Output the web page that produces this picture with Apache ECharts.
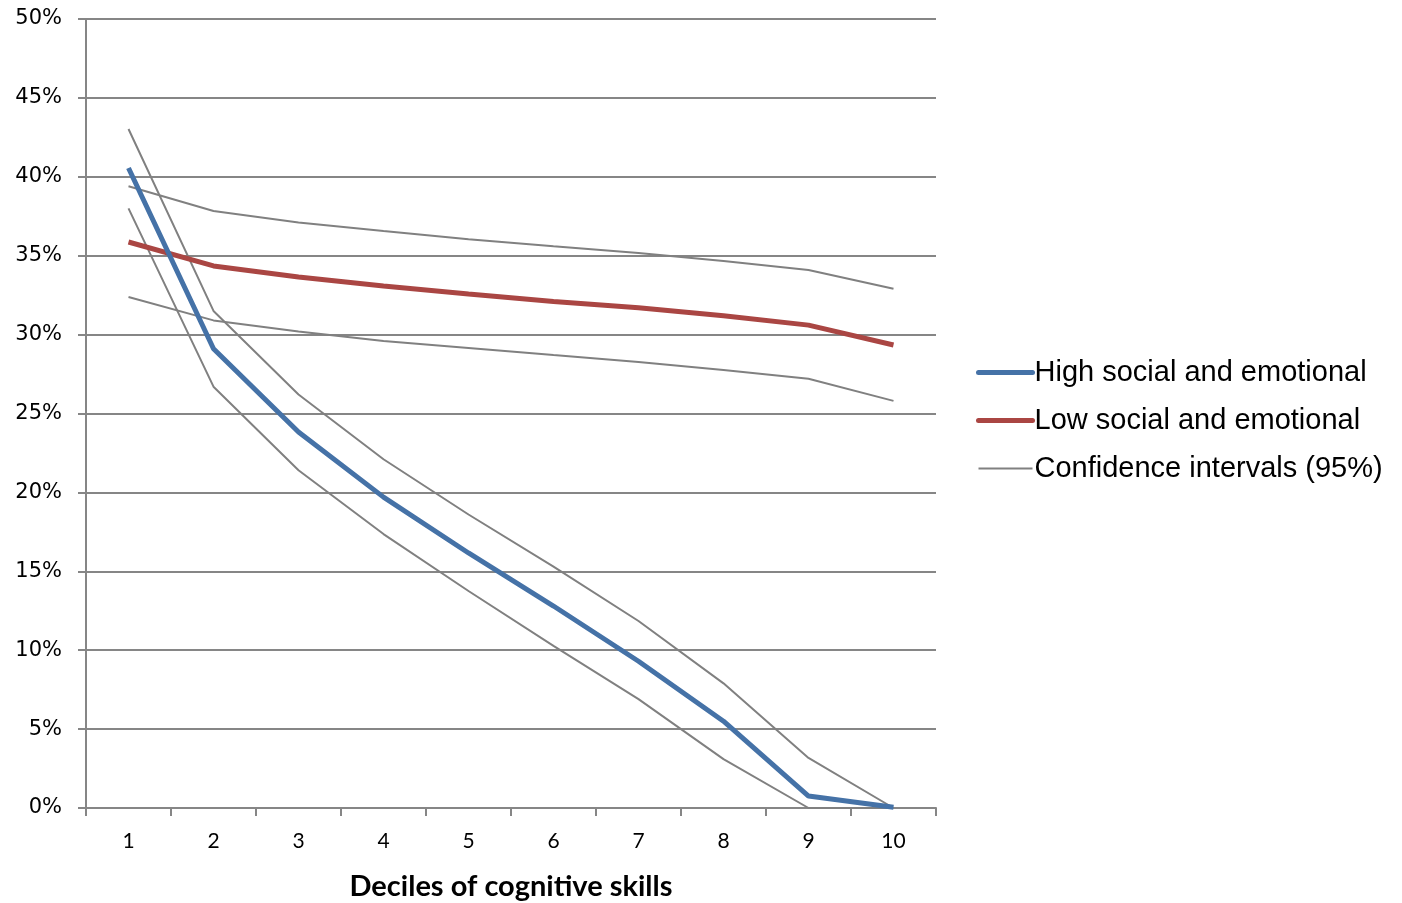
<!DOCTYPE html>
<html><head><meta charset="utf-8">
<script src="https://cdn.jsdelivr.net/npm/echarts@6/dist/echarts.min.js"></script>
<style>html,body{margin:0;padding:0;background:#fff}#c{width:1402px;height:903px}</style>
</head><body><div id="c"></div>
<script>
const categories = ['1','2','3','4','5','6','7','8','9','10'];
const highSE = [40.56, 29.1, 23.83, 19.7, 16.16, 12.8, 9.3, 5.5, 0.76, 0.05];
const lowSE = [35.87, 34.35, 33.65, 33.08, 32.57, 32.1, 31.7, 31.2, 30.6, 29.34];
const highUpper = [43.03, 31.5, 26.2, 22.1, 18.6, 15.3, 11.85, 7.9, 3.17, 0];
const highLower = [38.0, 26.7, 21.4, 17.36, 13.75, 10.27, 6.9, 3.1, 0, 0];
const lowUpper = [39.4, 37.83, 37.1, 36.56, 36.05, 35.6, 35.17, 34.66, 34.1, 32.9];
const lowLower = [32.38, 30.9, 30.2, 29.6, 29.15, 28.7, 28.26, 27.76, 27.2, 25.8];
const yTicks = [0,5,10,15,20,25,30,35,40,45,50];

const CI = 'Confidence intervals (95%)';
const HIGH = 'High social and emotional';
const LOW = 'Low social and emotional';
const grey = '#808080', blue = '#4572A7', red = '#AA4643';
function ciSeries(data){
  return {name: CI, type:'line', data, symbol:'none', lineStyle:{color:grey,width:2}, itemStyle:{color:grey}, z:2};
}
const chart = echarts.init(document.getElementById('c'));
chart.setOption({
  animation:false,
  grid:{left:86, top:19, width:850, height:789, containLabel:false, outerBoundsMode:'none'},
  legend:{
    orient:'vertical', left:971, top:353, itemWidth:54, itemHeight:14, itemGap:19,
    data:[
      {name:HIGH, itemStyle:{opacity:0}, lineStyle:{width:5, color:blue, cap:'round'}},
      {name:LOW, itemStyle:{opacity:0}, lineStyle:{width:5, color:red, cap:'round'}},
      {name:CI, itemStyle:{opacity:0}, lineStyle:{width:2, color:grey}}
    ],
    textStyle:{fontFamily:'Liberation Sans', fontSize:29, color:'#000', padding:[0,0,0,-3]},
    selectedMode:false
  },
  xAxis:{
    type:'category', data:categories, boundaryGap:true,
    name:'Deciles of cognitive skills', nameLocation:'middle', nameGap:64,
    nameTextStyle:{fontFamily:'Lato', fontWeight:'bold', fontSize:29, color:'#000'},
    axisLine:{lineStyle:{color:'#868686', width:2}},
    axisTick:{show:true, length:8, alignWithLabel:false, lineStyle:{color:'#868686', width:2}},
    axisLabel:{fontFamily:'Lato', fontSize:21, color:'#000', margin:23}
  },
  yAxis:{
    type:'value', min:yTicks[0], max:yTicks[yTicks.length-1], interval:5,
    axisLine:{show:true, lineStyle:{color:'#868686', width:2}},
    axisTick:{show:true, length:8, lineStyle:{color:'#868686', width:2}},
    axisLabel:{fontFamily:'DejaVu Sans', fontSize:21, color:'#000', margin:24, formatter: v => v + '%'},
    splitLine:{show:true, lineStyle:{color:'#868686', width:2}}
  },
  series:[
    ciSeries(highUpper), ciSeries(highLower), ciSeries(lowUpper), ciSeries(lowLower),
    {name:LOW, type:'line', data:lowSE, symbol:'none', lineStyle:{color:red, width:5}, itemStyle:{color:red}, z:3},
    {name:HIGH, type:'line', data:highSE, symbol:'none', lineStyle:{color:blue, width:5}, itemStyle:{color:blue}, z:4}
  ]
});
</script></body></html>
